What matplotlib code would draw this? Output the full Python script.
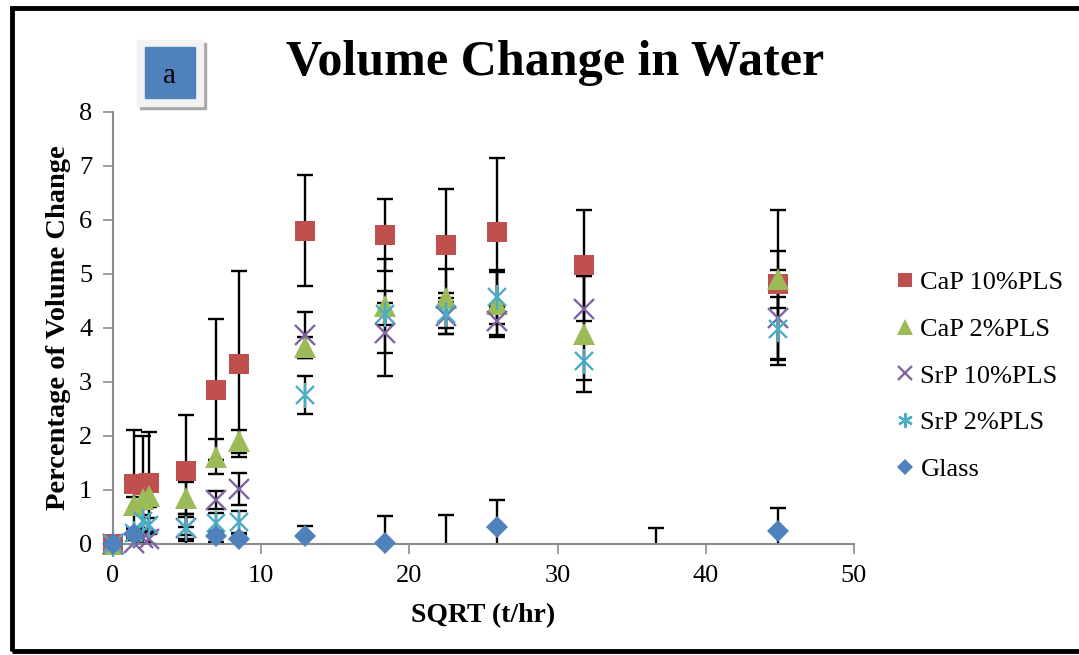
import numpy as np
import matplotlib
matplotlib.use("Agg")
import matplotlib.pyplot as plt
from matplotlib.patches import Rectangle

# ── Data ──────────────────────────────────────────────────────────────────
x = [0, 1.41, 2.0, 2.45, 4.9, 6.93, 8.49, 12.96, 18.33, 22.45, 25.92, 31.75, 36.66, 44.9]
nan = np.nan

cap10     = [0, 1.12, 1.10, 1.13, 1.35, 2.86, 3.34, 5.80, 5.72, 5.53, 5.78, 5.16, nan, 4.81]
cap10_err = [0, 1.00, 0.90, 0.95, 1.03, 1.31, 1.72, 1.03, 0.66, 1.04, 1.37, 1.03, nan, 1.38]

cap2      = [0, 0.72, 0.84, 0.88, 0.85, 1.62, 1.90, 3.64, 4.41, 4.55, 4.44, 3.89, nan, 4.90]
cap2_err  = [0, 0.15, 0.20, 0.20, 0.30, 0.33, 0.22, 0.20, 0.87, 0.55, 0.60, 1.07, nan, 0.53]

srp10     = [0, 0.02, 0.12, 0.10, 0.30, 0.82, 1.02, 3.87, 3.90, 4.22, 4.13, 4.36, nan, 4.19]
srp10_err = [0, 0.05, 0.10, 0.10, 0.25, 0.17, 0.30, 0.42, 0.78, 0.33, 0.26, 0.60, nan, 0.88]

srp2      = [0, 0.20, 0.42, 0.36, 0.30, 0.38, 0.41, 2.76, 4.26, 4.26, 4.57, 3.39, nan, 3.99]
srp2_err  = [0, 0.10, 0.12, 0.12, 0.20, 0.19, 0.20, 0.36, 0.20, 0.38, 0.50, 0.36, nan, 0.59]

glass     = [0, 0.18, -0.20, -0.20, -0.10, 0.14, 0.09, 0.14, 0.02, -0.10, 0.32, -0.50, -0.20, 0.24]
glass_err = [0, 0.10, 0.10, 0.10, 0.27, 0.10, 0.10, 0.20, 0.50, 0.63, 0.49, 0.30, 0.50, 0.43]

SERIES = [
    ("CaP 10%PLS", cap10, cap10_err, "#C0504D", "s", 15),
    ("CaP 2%PLS", cap2, cap2_err, "#9BBB59", "^", 16),
    ("SrP 10%PLS", srp10, srp10_err, "#8064A2", "x", 14),
    ("SrP 2%PLS", srp2, srp2_err, "#4BACC6", "*", 0),
    ("Glass", glass, glass_err, "#4F81BD", "D", 11.5),
]

FONT = "Liberation Serif"
W, H = 1079, 655

fig = plt.figure(figsize=(W / 100, H / 100), dpi=100)
ax = fig.add_axes([113 / W, 1 - 544 / H, (854 - 113) / W, (544 - 112) / H])

handles = []
for i, (name, vals, errs, col, mk, ms) in enumerate(SERIES):
    v = np.array(vals, dtype=float)
    e = np.array(errs, dtype=float)
    ax.errorbar(x, v, yerr=e, fmt="none", ecolor="black", elinewidth=1.7,
                capsize=5.5, capthick=1.7, zorder=2)
    shown = np.where(v >= 0, v, np.nan)
    if mk == "*":
        # asterisk built from an x and a vertical tick
        ax.plot(x, shown, ls="none", marker="x", ms=13, mew=1.7,
                color=col, clip_on=False, zorder=3 + i)
        ax.plot(x, shown, ls="none", marker="|", ms=18, mew=1.7,
                color=col, clip_on=False, zorder=3 + i)
        lh = ax.plot([], [], ls="none", marker=(6, 2, 0), ms=15, mew=1.7,
                     color=col)[0]
    else:
        mew = 1.7 if mk == "x" else 0
        lh, = ax.plot(x, shown, ls="none", marker=mk, ms=ms, mew=mew,
                      color=col, clip_on=False, zorder=3 + i)
    lh.set_label(name)
    handles.append(lh)

ax.set_xlim(0, 50)
ax.set_ylim(0, 8)
ax.set_xticks(range(0, 51, 10))
ax.set_yticks(range(0, 9))
for s in ("top", "right"):
    ax.spines[s].set_visible(False)
for s in ("left", "bottom"):
    ax.spines[s].set_color("#8C8C8C")
    ax.spines[s].set_linewidth(1.5)
ax.tick_params(direction="out", length=7, width=1.2, color="#8C8C8C",
               labelsize=19, pad=8)
for lab in ax.get_xticklabels() + ax.get_yticklabels():
    lab.set_fontfamily(FONT)

ax.set_xlabel("SQRT (t/hr)", fontsize=20, fontweight="bold", family=FONT, labelpad=12)
ax.set_ylabel("Percentage of Volume Change", fontsize=20.5, fontweight="bold",
              family=FONT, labelpad=6)

fig.text(555 / W, 1 - 63 / H, "Volume Change in Water", ha="center", va="center",
         fontsize=36, fontweight="bold", family=FONT)

leg = fig.legend(handles=handles, loc="upper left",
                 bbox_to_anchor=(873 / W, 1 - 247 / H), frameon=False,
                 prop={"family": FONT, "size": 19}, markerscale=0.7,
                 handlelength=0.6, handletextpad=0.3, labelspacing=0.88)

# "a" badge
fig.patches.append(Rectangle((140 / W, 1 - 109 / H), 66 / W, 66 / H,
                             transform=fig.transFigure, color="#A6A6A6", zorder=1))
fig.patches.append(Rectangle((137 / W, 1 - 106 / H), 66 / W, 66 / H,
                             transform=fig.transFigure, color="#F2F2F2", zorder=2))
fig.patches.append(Rectangle((145 / W, 1 - 98 / H), 50 / W, 51 / H,
                             transform=fig.transFigure, color="#4F81BD", zorder=3))
fig.text(170 / W, 1 - 76 / H, "a", ha="center", va="center", fontsize=21,
         family=FONT, zorder=4)

# outer frame
fig.patches.append(Rectangle((12 / W, 1 - 651 / H), 1.2, (651 - 8) / H,
                             transform=fig.transFigure, fill=False,
                             edgecolor="black", linewidth=3.5, zorder=5))

fig.savefig("out.png", dpi=100)
